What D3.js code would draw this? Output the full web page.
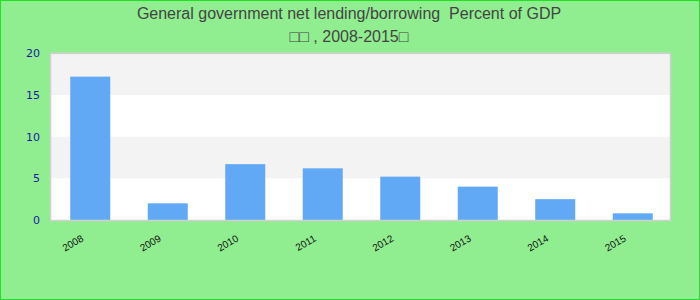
<!DOCTYPE html>
<html><head><meta charset="utf-8">
<script src="https://cdn.jsdelivr.net/npm/d3@7/dist/d3.min.js"></script>
<style>html,body{margin:0;padding:0;background:#90ee90;}svg{display:block;}</style>
</head><body><svg id="c" width="700" height="300"></svg>
<script>
const titleLine1 = "General government net lending/borrowing\u00a0 Percent of GDP";
const titleLine2 = "\u25a1\u25a1 , 2008-2015\u25a1";
const years = ["2008","2009","2010","2011","2012","2013","2014","2015"];
const values = [17.2, 2.0, 6.7, 6.2, 5.2, 4.0, 2.5, 0.8];
const yTicks = [0, 5, 10, 15, 20];

const svg = d3.select("#c");
const W = 700, H = 300;
const L = 50, R = 670, T = 53.3, B = 220;

svg.append("rect").attr("x",0.5).attr("y",0.5).attr("width",W-1).attr("height",H-1)
  .attr("fill","#90ee90").attr("stroke","#22e022").attr("stroke-width",1);

const x = d3.scaleBand().domain(years).range([L+1.5, R+1.5]).paddingInner(0.484).paddingOuter(0.242);
const y = d3.scaleLinear().domain([0,20]).range([B, T]);

// plot background
svg.append("rect").attr("x",L).attr("y",T).attr("width",R-L).attr("height",B-T).attr("fill","#ffffff");
// stripes
for (let i = 0; i < yTicks.length-1; i++) {
  if (i % 2 === 1) {
    svg.append("rect").attr("x",L).attr("width",R-L)
      .attr("y",y(yTicks[i+1])).attr("height",y(yTicks[i])-y(yTicks[i+1]))
      .attr("fill","#f3f3f3");
  }
}

svg.append("g").selectAll("rect").data(years).join("rect")
  .attr("x", d => x(d)).attr("width", x.bandwidth())
  .attr("y", (d,i) => y(values[i])).attr("height", (d,i) => B - y(values[i]))
  .attr("fill","#61a9f5");

// plot border
svg.append("rect").attr("x",L+0.5).attr("y",T).attr("width",R-L).attr("height",B-T+0.5)
  .attr("fill","none").attr("stroke","#d0d0d0").attr("stroke-width",1.5);

// y axis
const yAxis = d3.axisLeft(y).tickValues(yTicks).tickSize(0).tickPadding(10);
const gy = svg.append("g").attr("transform",`translate(${L},0)`).call(yAxis);
gy.select(".domain").remove();
gy.selectAll("text").attr("fill","#1a1aa0").attr("font-family","DejaVu Sans, sans-serif").attr("font-size",11);

// x axis
const xAxis = d3.axisBottom(x).tickSize(0).tickPadding(0);
const gx = svg.append("g").attr("transform",`translate(0,${B})`).call(xAxis);
gx.select(".domain").remove();
gx.selectAll("text")
  .attr("font-family","Liberation Sans, Arial, sans-serif").attr("font-size",10).attr("fill","#111")
  .attr("text-anchor","end").attr("dy",null).attr("y",0)
  .attr("transform","translate(-6,20.5) rotate(-30)");

// titles
svg.append("text").attr("x",349).attr("y",18.5).attr("text-anchor","middle")
  .attr("font-family","Liberation Sans, Arial, sans-serif").attr("font-size",16).attr("fill","#444")
  .text(titleLine1);
svg.append("text").attr("x",349).attr("y",42.3).attr("text-anchor","middle")
  .attr("font-family","Liberation Sans, Arial, sans-serif").attr("font-size",16).attr("fill","#444")
  .text(titleLine2);
</script></body></html>
